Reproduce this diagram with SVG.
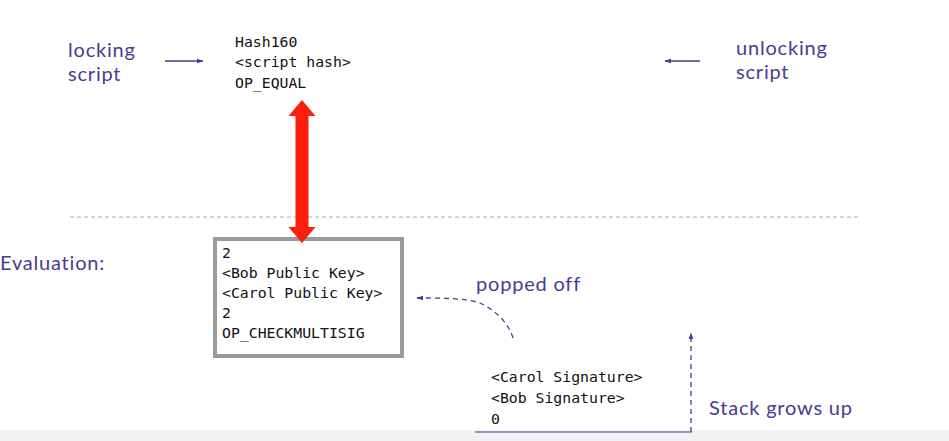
<svg xmlns="http://www.w3.org/2000/svg" width="949" height="441" viewBox="0 0 949 441">
<defs>
<style>
.lbl{font-family:Lato,"Noto Sans",sans-serif;font-size:20px;fill:#4a3b8f;letter-spacing:0.8px}
.mono{font-family:"DejaVu Sans Mono","Liberation Mono",monospace;font-size:14.8px;fill:#111111}
.pl{stroke:#4a3b8f;stroke-width:1.3;fill:none}
.dash{stroke-dasharray:5 4}
</style>
<marker id="ah" viewBox="0 0 10 10" refX="9" refY="5" markerWidth="7" markerHeight="7" orient="auto-start-reverse" markerUnits="userSpaceOnUse">
<path d="M0,1.5 L10,5 L0,8.5 Z" fill="#4a3b8f"/>
</marker>
</defs>
<rect x="0" y="0" width="949" height="441" fill="#ffffff"/>
<rect x="0" y="430" width="949" height="11" fill="#f2f2f2"/>

<g id="locking-label">
<text class="lbl" x="68" y="57">locking</text>
<text class="lbl" x="68" y="81">script</text>
</g>
<g id="locking-script">
<text class="mono" x="235" y="47">Hash160</text>
<text class="mono" x="235" y="67">&lt;script hash&gt;</text>
<text class="mono" x="235" y="88">OP_EQUAL</text>
</g>
<g id="unlocking-label">
<text class="lbl" x="736" y="55">unlocking</text>
<text class="lbl" x="736" y="79">script</text>
</g>
<g id="evaluation-label">
<text class="lbl" x="0" y="270">Evaluation:</text>
</g>
<g id="evaluation-box">
<rect x="215" y="239" width="187" height="117" fill="#ffffff" stroke="#9a9a9a" stroke-width="4"/>
<text class="mono" x="222" y="258">2</text>
<text class="mono" x="222" y="278">&lt;Bob Public Key&gt;</text>
<text class="mono" x="222" y="298">&lt;Carol Public Key&gt;</text>
<text class="mono" x="222" y="318">2</text>
<text class="mono" x="222" y="338">OP_CHECKMULTISIG</text>
</g>
<g id="popped-label">
<text class="lbl" x="476" y="291">popped off</text>
</g>
<g id="stack">
<text class="mono" x="491" y="382">&lt;Carol Signature&gt;</text>
<text class="mono" x="491" y="403">&lt;Bob Signature&gt;</text>
<text class="mono" x="491" y="424">0</text>
</g>
<g id="stack-label">
<text class="lbl" x="709" y="415">Stack grows up</text>
</g>

<g id="connectors">
<line x1="70" y1="217" x2="858" y2="217" stroke="#b0b0b8" stroke-width="1.2" stroke-dasharray="4 3"/>
<line class="pl" x1="165" y1="61" x2="203" y2="61" marker-end="url(#ah)"/>
<line class="pl" x1="700" y1="61" x2="665" y2="61" marker-end="url(#ah)"/>
<polygon points="302,100 315.5,116 308.5,116 308.5,227 315.5,227 302,243 288.5,227 295.5,227 295.5,116 288.5,116" fill="#fb1e0c"/>
<path class="pl dash" d="M513,338 C508,322 495,310 480,303 C465,298 440,298 417,298" marker-end="url(#ah)"/>
<line x1="475" y1="432" x2="692" y2="432" stroke="#4a3b8f" stroke-width="1.2"/>
<line class="pl dash" x1="691" y1="432" x2="691" y2="333" stroke-width="1" marker-end="url(#ah)"/>
</g>
</svg>
